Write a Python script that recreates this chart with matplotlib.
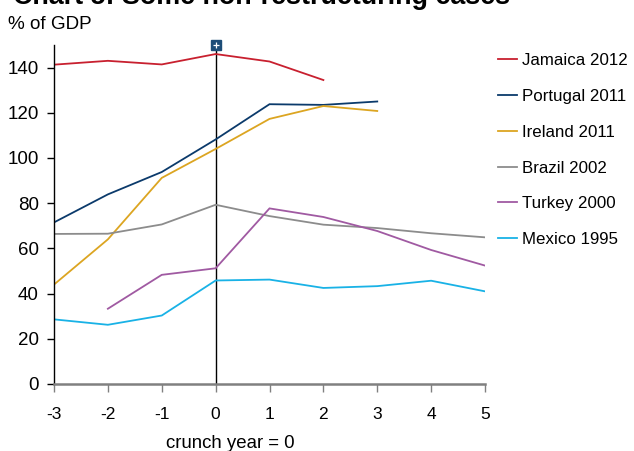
import numpy as np
import matplotlib
matplotlib.use("Agg")
import matplotlib.pyplot as plt

plt.rcParams['font.family'] = ['Liberation Sans', 'DejaVu Sans']

years = [-3, -2, -1, 0, 1, 2, 3, 4, 5]
x_ticks = [-3, -2, -1, 0, 1, 2, 3, 4, 5]
y_ticks = [0, 20, 40, 60, 80, 100, 120, 140]

jamaica = [141.3, 143.0, 141.4, 146.0, 142.7, 134.5, None, None, None]
portugal = [71.5, 83.9, 93.8, 108.2, 123.8, 123.5, 125.0, None, None]
ireland = [44.0, 64.0, 91.2, 104.0, 117.3, 123.0, 120.8, None, None]
brazil = [66.4, 66.5, 70.6, 79.3, 74.3, 70.5, 69.0, 66.7, 64.9]
turkey = [None, 33.3, 48.3, 51.2, 77.7, 73.9, 67.7, 59.3, 52.4]
mexico = [28.6, 26.2, 30.3, 45.8, 46.2, 42.5, 43.3, 45.7, 41.0]

series = [
    ("Jamaica 2012", jamaica, "#c8202f"),
    ("Portugal 2011", portugal, "#0b3a6b"),
    ("Ireland 2011", ireland, "#dca521"),
    ("Brazil 2002", brazil, "#8c8c8c"),
    ("Turkey 2000", turkey, "#a05aa2"),
    ("Mexico 1995", mexico, "#19b2e6"),
]

fig = plt.figure(figsize=(6.34, 4.51), dpi=100)
ax = fig.add_axes([54 / 634, 1 - 384 / 451, (485 - 54) / 634, (384 - 45) / 451])

for label, vals, color in series:
    y = np.array([np.nan if v is None else v for v in vals], dtype=float)
    ax.plot(years, y, color=color, lw=1.3, label=label, solid_joinstyle='miter')

# crunch-year marker line
ax.axvline(0, color='black', lw=1.0, zorder=1)
ax.plot(0, 150, marker='s', ms=7, color='#1d4d78', clip_on=False, zorder=5)
ax.plot(0, 150, marker='+', ms=5, mew=0.9, color='white', clip_on=False, zorder=6)

ax.set_xlim(-3, 5)
ax.set_ylim(0, 150)
ax.set_xticks(x_ticks)
ax.set_xticklabels([str(t) for t in x_ticks])
ax.set_yticks(y_ticks)
ax.set_yticklabels([str(t) for t in y_ticks])

for side in ('top', 'right'):
    ax.spines[side].set_visible(False)
ax.spines['left'].set_color('black')
ax.spines['left'].set_linewidth(1.0)
ax.spines['bottom'].set_color('#808080')
ax.spines['bottom'].set_linewidth(1.8)
ax.tick_params(axis='y', direction='out', length=5, width=1.0, color='black',
               labelsize=13.5, pad=6)
ax.tick_params(axis='x', direction='out', length=6, width=1.0, color='#808080',
               labelsize=12.5, pad=10.5)

fig.text(230 / 634, 1 - 448 / 451, "crunch year = 0", ha='center', va='baseline', fontsize=13.4)
fig.text(8 / 634, 1 - 29 / 451, "% of GDP", ha='left', va='baseline', fontsize=13.6)
fig.text(13 / 634, 1 - 4 / 451, "Chart 5: Some non-restructuring cases", ha='left',
         va='baseline', fontsize=19.4, fontweight='bold')

leg = ax.legend(loc='upper left', bbox_to_anchor=(498 / 634, 1 - 53 / 451),
                bbox_transform=fig.transFigure, frameon=False, fontsize=12.2,
                handlelength=1.12, handletextpad=0.3, labelspacing=1.23,
                borderaxespad=0, borderpad=0)

fig.savefig("out.png", dpi=100)
